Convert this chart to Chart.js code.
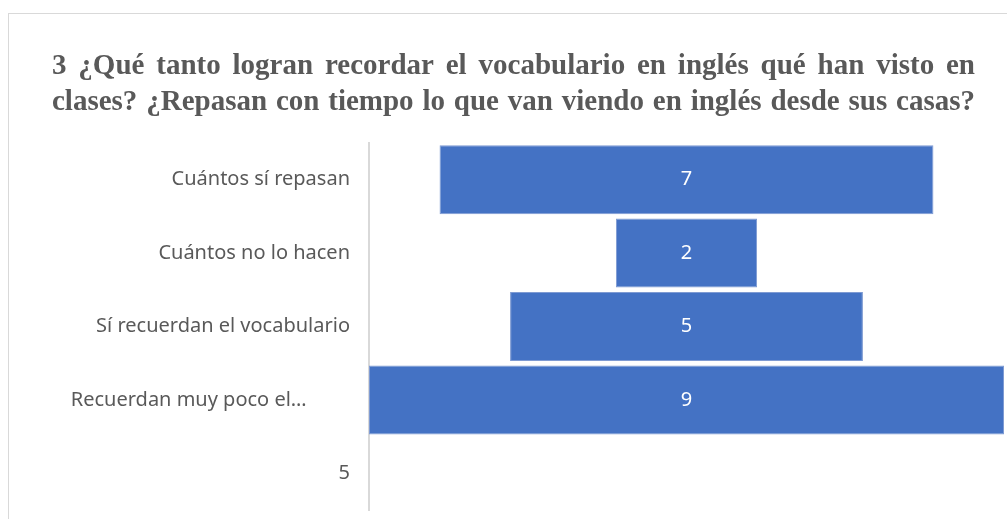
<!DOCTYPE html>
<html>
<head>
<meta charset="utf-8">
<script src="https://cdn.jsdelivr.net/npm/chart.js@4/dist/chart.umd.min.js"></script>
<style>
  body { margin: 0; background: #fff; overflow: hidden; }
  #wrap { position: relative; width: 1007px; height: 519px; }
  #frame { position: absolute; left: 8px; top: 13px; width: 1100px; height: 600px; border: 1px solid #d9d9d9; }
  #myFunnel { position: absolute; left: 0; top: 0; }
</style>
</head>
<body>
<div id="wrap">
  <div id="frame"></div>
  <canvas id="myFunnel" width="1007" height="519"></canvas>
</div>
<script>
// chart data
const titleLines = [
  '3 ¿Qué tanto logran recordar el vocabulario en inglés qué han visto en',
  'clases? ¿Repasan con tiempo lo que van viendo en inglés desde sus casas?'
];
const categories = ['Cuántos sí repasan', 'Cuántos no lo hacen', 'Sí recuerdan el vocabulario', 'Recuerdan muy poco el…', '5'];
const values = [7, 2, 5, 9, null];

// funnel bars are floating bars centred on zero
const funnelData = values.map(v => (v == null ? null : [-v / 2, v / 2]));

// justified title drawn on the canvas
const justifiedTitle = {
  id: 'justifiedTitle',
  afterDraw(chart) {
    const ctx = chart.ctx;
    const left = 52, right = 975;
    const baselines = [74, 110];
    ctx.save();
    ctx.font = 'bold 29px "Liberation Serif", "Times New Roman", serif';
    ctx.fillStyle = '#595959';
    ctx.textBaseline = 'alphabetic';
    titleLines.forEach((line, i) => {
      const words = line.split(' ');
      const widths = words.map(w => ctx.measureText(w).width);
      const total = widths.reduce((a, b) => a + b, 0);
      const gap = (right - left - total) / (words.length - 1);
      let x = left;
      words.forEach((w, j) => {
        ctx.fillText(w, x, baselines[i]);
        x += widths[j] + gap;
      });
    });
    ctx.restore();
  }
};

// value labels in the middle of each bar
const barValues = {
  id: 'barValues',
  afterDatasetsDraw(chart) {
    const ctx = chart.ctx;
    const meta = chart.getDatasetMeta(0);
    ctx.save();
    ctx.font = '20px "Noto Sans", sans-serif';
    ctx.fillStyle = '#ffffff';
    ctx.textAlign = 'center';
    ctx.textBaseline = 'middle';
    meta.data.forEach((bar, i) => {
      if (values[i] == null) return;
      ctx.fillText(String(values[i]), bar.getCenterPoint().x, bar.y);
    });
    ctx.restore();
  }
};

const ctx = document.getElementById('myFunnel').getContext('2d');
const myFunnel = new Chart(ctx, {
  type: 'bar',
  data: {
    labels: categories,
    datasets: [
      {
        data: funnelData,
        backgroundColor: '#4472c4',
        borderColor: '#7f9bd3',
        borderWidth: 1,
        borderSkipped: false,
        barPercentage: 0.94,
        categoryPercentage: 1.0,
      },
    ],
  },
  options: {
    indexAxis: 'y',
    responsive: false,
    animation: false,
    layout: { padding: { top: 143, right: 3, bottom: 9, left: 0 } },
    plugins: {
      legend: { display: false },
      tooltip: { enabled: false },
    },
    scales: {
      x: {
        display: false,
        min: -4.5,
        max: 4.5,
      },
      y: {
        afterFit: (scale) => {
          scale.width = 369;
          scale.paddingTop = 0;
          scale.paddingBottom = 0;
        },
        grid: { display: false, drawTicks: false },
        border: { display: true, color: '#d9d9d9', width: 2 },
        ticks: {
          padding: 19,
          color: '#595959',
          font: { family: '"Noto Sans", sans-serif', size: 20 },
          // the truncated label sits a bit left of the others
          callback: (val, i) => (i === 3 ? categories[i] + '\u2003\u2003\u2009' : categories[i]),
        },
      },
    },
  },
  plugins: [justifiedTitle, barValues],
});
</script>
</body>
</html>
